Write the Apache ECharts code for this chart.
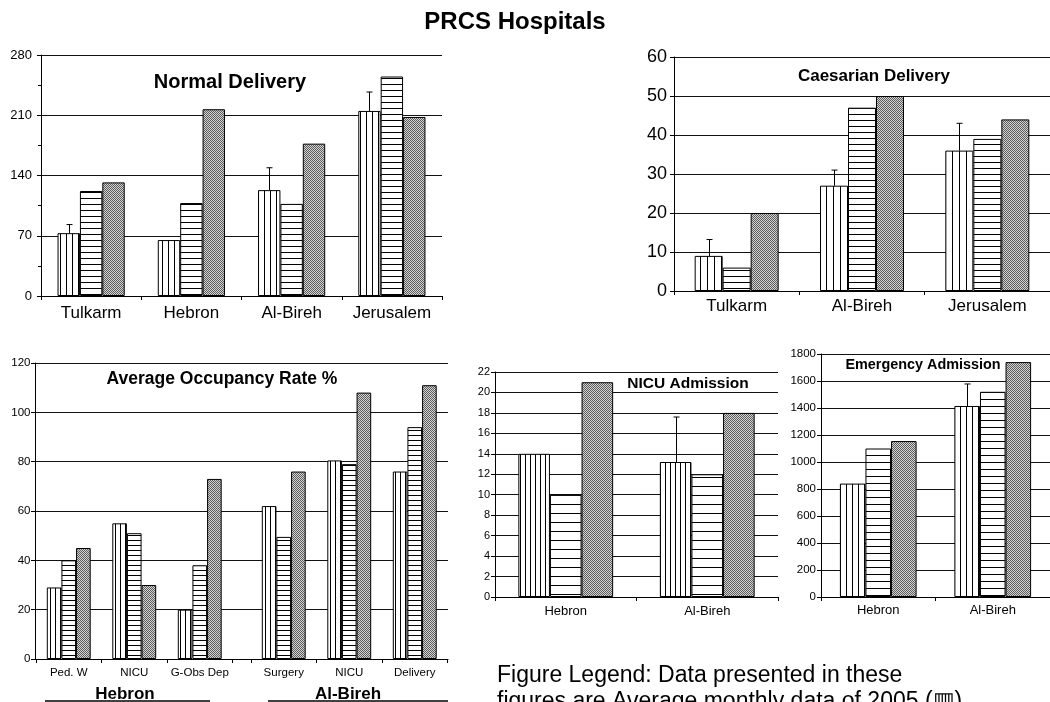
<!DOCTYPE html>
<html>
<head>
<meta charset="utf-8">
<title>PRCS Hospitals</title>
<script src="https://cdn.jsdelivr.net/npm/echarts@6/dist/echarts.min.js"></script>
<style>
html, body { margin: 0; padding: 0; background: #fff; }
#container { width: 1050px; height: 702px; }
</style>
</head>
<body>
<div id="container"></div>
<script>
// Normal Delivery
var normalCats = ['Tulkarm', 'Hebron', 'Al-Bireh', 'Jerusalem'];
var normalA = [73, 65, 123, 215];
var normalB = [122, 108, 107, 255];
var normalC = [132, 217, 177, 208];
var normalErr = [83, null, 149, 237];

// Caesarian Delivery
var caesCats = ['Tulkarm', 'Al-Bireh', 'Jerusalem'];
var caesA = [9, 27, 36];
var caesB = [6, 47, 39];
var caesC = [20, 50, 44];
var caesErr = [13.2, 31, 43];

// Average Occupancy Rate %
var occHebronCats = ['Ped. W', 'NICU', 'G-Obs Dep'];
var occHebronA = [29, 55, 20];
var occHebronB = [40, 51, 38];
var occHebronC = [45, 30, 73];
var occBirehCats = ['Surgery', 'NICU', 'Delivery'];
var occBirehA = [62, 80.5, 76];
var occBirehB = [49.5, 79, 94];
var occBirehC = [76, 108, 111];

// NICU Admission
var nicuCats = ['Hebron', 'Al-Bireh'];
var nicuA = [14, 13.2];
var nicuB = [10, 12];
var nicuC = [21, 18];
var nicuErr = [null, 17.6];

// Emergency Admission
var emerCats = ['Hebron', 'Al-Bireh'];
var emerA = [840, 1415];
var emerB = [1100, 1520];
var emerC = [1155, 1740];
var emerErr = [null, 1578];

var FONT = '"Liberation Sans", Arial, sans-serif';

function stripes(dir, step) {
	var c = document.createElement('canvas');
	c.width = dir === 'v' ? step : 4;
	c.height = dir === 'v' ? 4 : step;
	var ctx = c.getContext('2d');
	ctx.fillStyle = '#fff';
	ctx.fillRect(0, 0, c.width, c.height);
	ctx.fillStyle = '#000';
	if (dir === 'v') ctx.fillRect(0, 0, 1, c.height);
	else ctx.fillRect(0, 0, c.width, 1);
	return { image: c, repeat: 'repeat' };
}

function dots() {
	var c = document.createElement('canvas');
	c.width = 2;
	c.height = 2;
	var ctx = c.getContext('2d');
	ctx.fillStyle = '#d2d2d2';
	ctx.fillRect(0, 0, 2, 2);
	ctx.fillStyle = '#5e5e5e';
	ctx.fillRect(0, 0, 1, 1);
	ctx.fillRect(1, 1, 1, 1);
	return { image: c, repeat: 'repeat' };
}

function bars(gi, a, b, c, vStep, hStep) {
	var fills = [stripes('v', vStep), stripes('h', hStep), dots()];
	return [a, b, c].map(function (d, k) {
		return {
			type: 'bar',
			name: ['2005', 'b', 'c'][k],
			xAxisIndex: gi,
			yAxisIndex: gi,
			barGap: '0%',
			barCategoryGap: '33%',
			itemStyle: { color: fills[k], borderColor: '#000', borderWidth: 1 },
			emphasis: { disabled: true },
			data: d
		};
	});
}

function renderErr(params, api) {
	var band = api.size([1, 0])[0];
	var bw = band * 0.67 / 3;
	var top = api.coord([api.value(0), api.value(2)]);
	var bot = api.coord([api.value(0), api.value(1)]);
	var x = Math.round(top[0] - bw) + 0.5;
	return {
		type: 'group',
		children: [
			{ type: 'line', shape: { x1: x, y1: bot[1], x2: x, y2: top[1] }, style: { stroke: '#000', lineWidth: 1 } },
			{ type: 'line', shape: { x1: x - 3, y1: top[1], x2: x + 3, y2: top[1] }, style: { stroke: '#000', lineWidth: 1 } }
		]
	};
}

function errSeries(gi, vals, errs) {
	var data = [];
	errs.forEach(function (e, i) {
		if (e != null) data.push([i, vals[i], e]);
	});
	return {
		type: 'custom',
		xAxisIndex: gi,
		yAxisIndex: gi,
		renderItem: renderErr,
		encode: { x: 0, y: [1, 2] },
		z: 5,
		silent: true,
		data: data
	};
}

function xAx(gi, cats, size, margin, showLine) {
	return {
		type: 'category',
		gridIndex: gi,
		data: cats,
		axisLine: { show: showLine !== false, lineStyle: { color: '#000', width: 1 } },
		axisTick: { show: true, length: 4, inside: false, lineStyle: { color: '#000' } },
		axisLabel: { show: size > 0, color: '#000', fontSize: size, margin: margin, fontFamily: FONT, interval: 0 }
	};
}

function yAx(gi, max, step, size, margin, minor, hidden) {
	return {
		type: 'value',
		gridIndex: gi,
		show: !hidden,
		min: 0,
		max: max,
		interval: step,
		axisLine: { show: true, lineStyle: { color: '#000', width: 1 } },
		axisTick: { show: true, length: 4, lineStyle: { color: '#000' } },
		minorTick: { show: !!minor, splitNumber: 2, length: 3, lineStyle: { color: '#000' } },
		axisLabel: {
			color: '#000', fontSize: size, margin: margin, fontFamily: FONT,
			formatter: function (v) { return String(v); }
		},
		splitLine: { show: !hidden, lineStyle: { color: '#111', width: 1 } }
	};
}

function txt(x, y, s, size, bold, align) {
	return {
		type: 'text',
		x: x,
		y: y,
		z: 10,
		style: {
			text: s,
			fill: '#000',
			font: (bold ? 'bold ' : '') + size + 'px ' + FONT,
			textAlign: align || 'center',
			textVerticalAlign: 'middle'
		}
	};
}

function hline(x1, x2, y) {
	return { type: 'line', z: 10, shape: { x1: x1, y1: y, x2: x2, y2: y }, style: { stroke: '#000', lineWidth: 1.5 } };
}

var chart = echarts.init(document.getElementById('container'));

var option = {
	animation: false,
	backgroundColor: '#fff',
	textStyle: { fontFamily: FONT },
	grid: [
		{ left: 41, top: 55, width: 401, height: 241 },
		{ left: 674, top: 57, width: 381, height: 234 },
		{ left: 35, top: 363, width: 413, height: 296 },
		{ left: 36, top: 363, width: 196.5, height: 296 },
		{ left: 251, top: 363, width: 196.5, height: 296 },
		{ left: 495, top: 372, width: 283, height: 225 },
		{ left: 821, top: 354, width: 237, height: 243 }
	],
	xAxis: [
		xAx(0, normalCats, 17, 9),
		xAx(1, caesCats, 17, 7),
		{
			type: 'category', gridIndex: 2, data: [''],
			axisLine: { show: true, lineStyle: { color: '#000', width: 1 } },
			axisTick: { show: false }, axisLabel: { show: false }
		},
		xAx(3, occHebronCats, 11.5, 8, false),
		xAx(4, occBirehCats, 11.5, 8, false),
		xAx(5, nicuCats, 13, 8),
		xAx(6, emerCats, 13, 6.5)
	],
	yAxis: [
		yAx(0, 280, 70, 13, 9, true),
		yAx(1, 60, 10, 18, 7),
		yAx(2, 120, 20, 11.5, 4.5),
		yAx(3, 120, 20, 11.5, 4.5, false, true),
		yAx(4, 120, 20, 11.5, 4.5, false, true),
		yAx(5, 22, 2, 11, 5),
		yAx(6, 1800, 200, 11.5, 5)
	],
	series: []
		.concat(bars(0, normalA, normalB, normalC, 6, 6))
		.concat([errSeries(0, normalA, normalErr)])
		.concat(bars(1, caesA, caesB, caesC, 7, 6))
		.concat([errSeries(1, caesA, caesErr)])
		.concat(bars(3, occHebronA, occHebronB, occHebronC, 5, 5))
		.concat(bars(4, occBirehA, occBirehB, occBirehC, 5, 5))
		.concat(bars(5, nicuA, nicuB, nicuC, 5, 9))
		.concat([errSeries(5, nicuA, nicuErr)])
		.concat(bars(6, emerA, emerB, emerC, 6, 7))
		.concat([errSeries(6, emerA, emerErr)]),
	graphic: [
		txt(515, 22, 'PRCS Hospitals', 24, true),
		txt(230, 82, 'Normal Delivery', 20, true),
		txt(874, 76, 'Caesarian Delivery', 17, true),
		txt(222, 379, 'Average Occupancy Rate %', 17.5, true),
		txt(688, 384, 'NICU Admission', 15.5, true),
		txt(923, 365, 'Emergency Admission', 14.4, true),
		txt(125, 694, 'Hebron', 17, true),
		txt(348, 694, 'Al-Bireh', 17, true),
		hline(45, 210, 701),
		hline(268, 448, 701),
		txt(497, 676, 'Figure Legend: Data presented in these', 23, false, 'left'),
		txt(497, 702, 'figures are Average monthly data of 2005 (\u25A5)', 23, false, 'left')
	]
};

chart.setOption(option);
</script>
</body>
</html>
